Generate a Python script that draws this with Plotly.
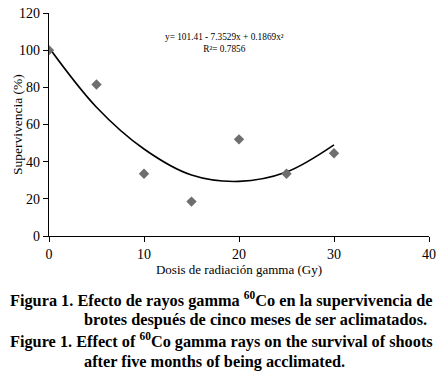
import plotly.graph_objects as go

dose = [0, 5, 10, 15, 20, 25, 30]
survival = [100, 81.5, 33.5, 18.5, 52, 33.5, 44.5]

trend_x = [0, 5, 10, 15, 20, 25, 30]
trend_y = [101.4, 69.3, 46.8, 32.8, 29.4, 34.4, 49.0]

x_ticks = [0, 10, 20, 30, 40]
y_ticks = [0, 20, 40, 60, 80, 100, 120]

serif = "Liberation Serif, Times New Roman, serif"

W, H = 444, 377
L, R, T, B = 49, 15, 13, 141
pw, ph = W - L - R, H - T - B


def px_x(p):
    return (p - L) / pw


def px_y(p):
    return (H - B - p) / ph


fig = go.Figure()
fig.add_trace(go.Scatter(x=trend_x, y=trend_y, mode="lines",
                         line=dict(color="black", width=1.6, shape="spline", smoothing=1.0),
                         showlegend=False, hoverinfo="skip"))
fig.add_trace(go.Scatter(x=dose, y=survival, mode="markers",
                         marker=dict(symbol="diamond", size=8, color="#6e6e6e"), showlegend=False))

fig.update_layout(
    width=W, height=H, paper_bgcolor="white", plot_bgcolor="white",
    margin=dict(l=L, r=R, t=T, b=B),
    font=dict(family=serif, color="black", size=13),
)
fig.update_xaxes(range=[0, 40], tickvals=x_ticks, showgrid=False, zeroline=False, automargin=False,
                 showline=True, linecolor="black", linewidth=1.2, ticks="outside", ticklen=5,
                 tickcolor="black", tickfont=dict(size=14, family=serif),
                 title=dict(text="Dosis de radiación gamma (Gy)", font=dict(size=13, family=serif), standoff=3))
fig.update_yaxes(range=[0, 120], tickvals=y_ticks, showgrid=False, zeroline=False, automargin=False,
                 showline=True, linecolor="black", linewidth=1.2, ticks="outside", ticklen=5,
                 tickcolor="black", tickfont=dict(size=14, family=serif))

fig.add_annotation(x=px_x(17), y=px_y(125), xref="paper", yref="paper",
                   xanchor="center", yanchor="middle", textangle=-90,
                   text="Supervivencia (%)", showarrow=False,
                   font=dict(size=13.5, family=serif))

fig.add_annotation(x=px_x(224), y=px_y(42.5), xref="paper", yref="paper",
                   xanchor="center", yanchor="middle",
                   text="y= 101.41 - 7.3529x + 0.1869x²<br>R²= 0.7856",
                   showarrow=False, font=dict(size=9.3, family=serif), align="center")

captions = [
    (8, 299, "Figura 1. Efecto de rayos gamma <sup>60</sup>Co en la supervivencia de"),
    (82, 319.5, "brotes después de cinco meses de ser aclimatados."),
    (8, 340.5, "Figure 1. Effect of <sup>60</sup>Co gamma rays on the survival of shoots"),
    (82, 361, "after five months of being acclimated."),
]
for cx, cy, txt in captions:
    fig.add_annotation(x=px_x(cx), y=px_y(cy), xref="paper", yref="paper",
                       text="<b>" + txt + "</b>", showarrow=False, xanchor="left", yanchor="middle",
                       font=dict(size=16.3, family=serif, color="black"))

fig.write_html("out.html", config={"displayModeBar": False},
               post_script="document.body.style.margin='0';document.body.style.overflow='hidden';")
